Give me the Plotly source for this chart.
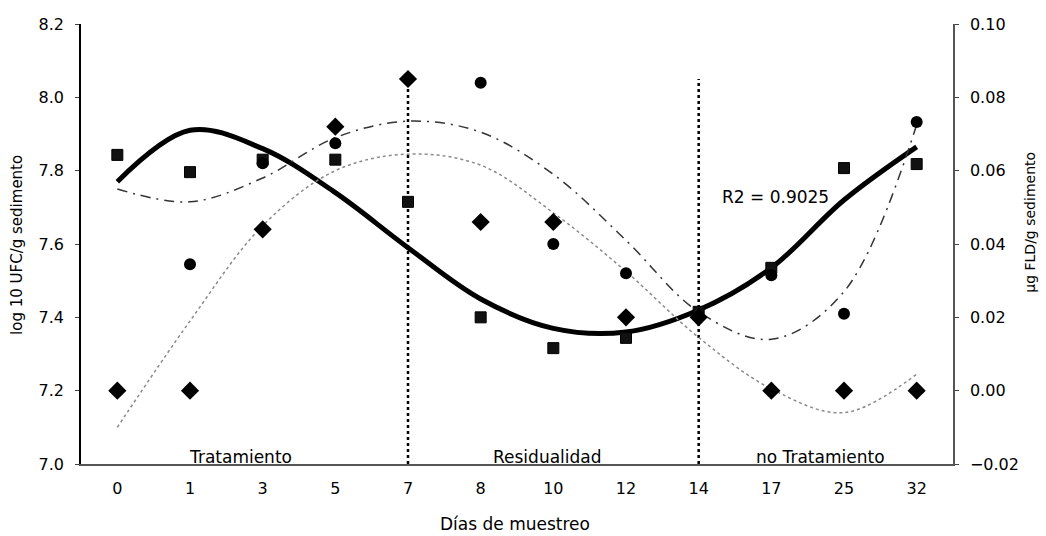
import plotly.graph_objects as go

# ---------------- data ----------------
days = ["0", "1", "3", "5", "7", "8", "10", "12", "14", "17", "25", "32"]

# log10 UFC/g sedimento (left axis) - squares
ufc = [7.843, 7.796, 7.83, 7.83, 7.715, 7.40, 7.316, 7.344, 7.415, 7.535, 7.807, 7.818]
# polynomial trend of ufc (R2 = 0.9025)
ufc_trend = [7.77, 7.91, 7.86, 7.74, 7.59, 7.45, 7.37, 7.36, 7.42, 7.535, 7.72, 7.865]

# µg FLD/g sedimento (right axis) - circles
fld_a = [None, 0.0345, 0.062, 0.0675, None, 0.084, 0.040, 0.032, None, 0.0315, 0.021, 0.0733]
fld_a_trend = [0.055, 0.0515, 0.058, 0.069, 0.0735, 0.0705, 0.059, 0.041, 0.0215, 0.014, 0.027, 0.0725]

# µg FLD/g sedimento (right axis) - diamonds
fld_b = [0.0, 0.0, 0.044, 0.072, 0.085, 0.046, 0.046, 0.020, 0.020, 0.0, 0.0, 0.0]
fld_b_trend = [-0.010, 0.019, 0.045, 0.060, 0.0645, 0.0615, 0.0485, 0.0325, 0.0145, 0.0005, -0.006, 0.0045]

# phase boundaries
boundaries = ["7", "14"]
boundary_span = [7.0, 8.05]

phases = ["Tratamiento", "Residualidad", "no Tratamiento"]
phase_pos = [1.69, 5.92, 9.68]

r2_text = "R2 = 0.9025"

FONT = "DejaVu Sans"

fig = go.Figure()

# trend lines
fig.add_trace(go.Scatter(x=days, y=fld_b_trend, yaxis="y2", mode="lines",
                         line=dict(color="#8a8a8a", width=1.5, dash="dot", shape="spline"),
                         showlegend=False, hoverinfo="skip"))
fig.add_trace(go.Scatter(x=days, y=fld_a_trend, yaxis="y2", mode="lines",
                         line=dict(color="#333333", width=1.5, dash="10px,6px,2px,6px", shape="spline"),
                         showlegend=False, hoverinfo="skip"))

# vertical phase boundaries
for b in boundaries:
    fig.add_trace(go.Scatter(x=[b, b], y=boundary_span, mode="lines",
                             line=dict(color="#000000", width=2.5, dash="dot"),
                             showlegend=False, hoverinfo="skip"))

fig.add_trace(go.Scatter(x=days, y=ufc_trend, mode="lines",
                         line=dict(color="#000000", width=5, shape="spline"),
                         showlegend=False, hoverinfo="skip"))

# markers
fig.add_trace(go.Scatter(x=days, y=ufc, mode="markers",
                         marker=dict(symbol="square", size=11, color="#111111",
                                     line=dict(color="#000000", width=1)),
                         showlegend=False))
fig.add_trace(go.Scatter(x=days, y=fld_a, yaxis="y2", mode="markers",
                         marker=dict(symbol="circle", size=12, color="#000000"),
                         showlegend=False))
fig.add_trace(go.Scatter(x=days, y=fld_b, yaxis="y2", mode="markers",
                         marker=dict(symbol="diamond", size=14, color="#000000"),
                         showlegend=False))

annotations = []
for txt, pos in zip(phases, phase_pos):
    annotations.append(dict(x=pos, xref="x", y=0.016, yref="paper", text=txt,
                            showarrow=False, xanchor="center", yanchor="middle",
                            font=dict(family=FONT, size=17, color="#000")))
annotations.append(dict(x=9.06, xref="x", y=7.728, yref="y", text=r2_text,
                        showarrow=False, xanchor="center", yanchor="middle",
                        font=dict(family=FONT, size=17, color="#000")))
annotations.append(dict(x=-0.0734, xref="paper", y=0.498, yref="paper",
                        text="log 10 UFC/g sedimento", textangle=-90,
                        showarrow=False, xanchor="center", yanchor="middle",
                        font=dict(family=FONT, size=15, color="#000")))
annotations.append(dict(x=1.088, xref="paper", y=0.55, yref="paper",
                        text="µg FLD/g sedimento", textangle=-90,
                        showarrow=False, xanchor="center", yanchor="middle",
                        font=dict(family=FONT, size=14, color="#000")))
annotations.append(dict(x=0.498, xref="paper", y=-0.137, yref="paper",
                        text="Días de muestreo",
                        showarrow=False, xanchor="center", yanchor="middle",
                        font=dict(family=FONT, size=17, color="#000")))

fig.update_layout(
    width=1046, height=536,
    margin=dict(l=81, r=93, t=24, b=72),
    paper_bgcolor="white", plot_bgcolor="white",
    font=dict(family=FONT, size=16, color="#000"),
    annotations=annotations,
    xaxis=dict(type="category", categoryorder="array", categoryarray=days,
               range=[-0.5, 11.5], showgrid=False, zeroline=False,
               showline=True, linecolor="#555555", linewidth=1.5,
               ticks="", ticklabelstandoff=9,
               tickfont=dict(family=FONT, size=16, color="#000")),
    yaxis=dict(range=[7.0, 8.2], dtick=0.2, tickformat=".1f",
               showgrid=False, zeroline=False,
               showline=True, linecolor="#000000", linewidth=1.5,
               ticks="outside", ticklen=4, tickcolor="#444",
               ticklabelstandoff=8,
               tickfont=dict(family=FONT, size=16, color="#000")),
    yaxis2=dict(range=[-0.02, 0.10], dtick=0.02, tickformat=".2f",
                overlaying="y", side="right",
                showgrid=False, zeroline=False,
                showline=True, linecolor="#555555", linewidth=1.5,
                ticks="outside", ticklen=4, tickcolor="#444",
                ticklabelstandoff=8,
                tickfont=dict(family=FONT, size=16, color="#000")),
)

fig.write_html("out.html")
